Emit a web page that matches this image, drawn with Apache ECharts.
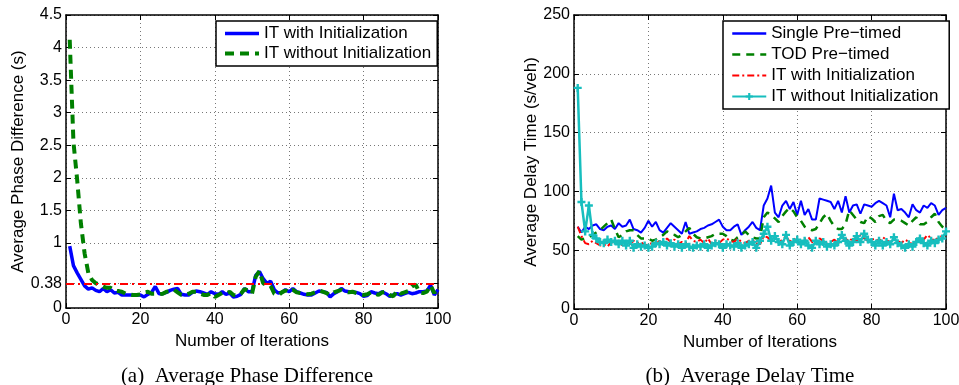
<!DOCTYPE html>
<html>
<head>
<meta charset="utf-8">
<script src="https://cdn.jsdelivr.net/npm/echarts@6.0.0/dist/echarts.min.js"></script>
<style>
  html, body { margin: 0; padding: 0; background: #fff; }
  #chart { width: 959px; height: 385px; }
</style>
</head>
<body>
<div id="chart"></div>
<script>
// iteration numbers (x values)
const iterations = Array.from({ length: 100 }, (_, i) => i + 1);

// (a) average phase difference (s)
const phaseWithInit = [
  0.95, 0.65, 0.54, 0.44, 0.34, 0.29, 0.31, 0.27, 0.25, 0.30,
  0.25, 0.28, 0.23, 0.24, 0.20, 0.20, 0.20, 0.20, 0.20, 0.20,
  0.17, 0.21, 0.24, 0.33, 0.22, 0.22, 0.24, 0.27, 0.29, 0.30,
  0.21, 0.20, 0.20, 0.24, 0.26, 0.25, 0.23, 0.21, 0.25, 0.22,
  0.21, 0.25, 0.21, 0.23, 0.17, 0.18, 0.21, 0.30, 0.25, 0.25,
  0.50, 0.56, 0.45, 0.38, 0.41, 0.28, 0.23, 0.24, 0.28, 0.25,
  0.30, 0.25, 0.23, 0.21, 0.20, 0.20, 0.23, 0.26, 0.25, 0.24,
  0.17, 0.22, 0.25, 0.30, 0.26, 0.25, 0.25, 0.24, 0.22, 0.18,
  0.19, 0.25, 0.23, 0.22, 0.25, 0.22, 0.18, 0.20, 0.22, 0.20,
  0.22, 0.24, 0.22, 0.23, 0.25, 0.25, 0.26, 0.35, 0.20, 0.28
];
const phaseWithoutInit = [
  4.12, 2.55, 1.97, 1.30, 0.84, 0.54, 0.43, 0.38, 0.36, 0.33,
  0.31, 0.31, 0.27, 0.26, 0.25, 0.22, 0.21, 0.20, 0.20, 0.21,
  0.24, 0.25, 0.22, 0.22, 0.21, 0.22, 0.25, 0.26, 0.28, 0.24,
  0.20, 0.20, 0.22, 0.25, 0.25, 0.22, 0.20, 0.20, 0.23, 0.17,
  0.20, 0.23, 0.22, 0.25, 0.20, 0.19, 0.22, 0.29, 0.27, 0.22,
  0.48, 0.57, 0.38, 0.35, 0.34, 0.22, 0.19, 0.24, 0.27, 0.24,
  0.28, 0.24, 0.23, 0.22, 0.21, 0.22, 0.24, 0.27, 0.25, 0.23,
  0.20, 0.24, 0.26, 0.28, 0.25, 0.24, 0.25, 0.23, 0.21, 0.20,
  0.21, 0.24, 0.22, 0.20, 0.24, 0.25, 0.20, 0.18, 0.27, 0.22,
  0.24, 0.26, 0.33, 0.36, 0.24, 0.23, 0.25, 0.35, 0.23, 0.33
];
const phaseThreshold = 0.38;
const phaseTicks = [0, 0.38, 1, 1.5, 2, 2.5, 3, 3.5, 4, 4.5];

// (b) average delay time (s/veh)
const delaySingle = [
  70, 65, 70, 68, 71, 72, 68, 67, 70, 71,
  68, 73, 70, 71, 76, 68, 67, 65, 69, 75,
  70, 74, 67, 65, 69, 73, 70, 67, 64, 74,
  64, 65, 66, 68, 69, 71, 72, 74, 76, 70,
  67, 67, 70, 72, 63, 67, 70, 74, 69, 67,
  88, 94, 105, 82, 78, 88, 92, 85, 91, 80,
  92, 80, 85, 76, 76, 94, 93, 92, 91, 85,
  92, 82, 96, 82, 88, 89, 81, 89, 88, 87,
  90, 92, 90, 88, 78, 98, 84, 85, 82, 78,
  89, 84, 82, 88, 86, 90, 88, 80, 84, 86
];
const delayTod = [
  62, 59, 60, 61, 63, 65, 67, 70, 73, 76,
  68, 61, 63, 66, 67, 67, 63, 60, 60, 60,
  58, 59, 61, 63, 66, 64, 63, 61, 63, 66,
  69, 64, 61, 60, 60, 61, 62, 64, 64, 64,
  62, 59, 58, 61, 63, 66, 63, 61, 60, 60,
  78, 82, 80, 77, 74, 79, 83, 86, 83, 78,
  75, 70, 68, 67, 68, 73, 78, 81, 75, 70,
  68, 68, 72, 84, 80, 76, 74, 73, 79, 77,
  74, 79, 80, 75, 73, 76, 76, 75, 73, 71,
  75, 78, 72, 72, 74, 78, 81, 74, 70, 68
];
const delayItWith = [
  70, 62, 56, 55, 58, 56, 54, 55, 53, 57,
  56, 59, 54, 57, 55, 58, 56, 57, 54, 55,
  56, 55, 58, 56, 60, 57, 59, 55, 57, 56,
  62, 58, 57, 59, 56, 60, 55, 58, 56, 59,
  60, 58, 57, 60, 57, 56, 58, 59, 56, 55,
  62, 61, 58, 60, 56, 59, 62, 57, 60, 58,
  55, 59, 61, 57, 56, 60, 58, 55, 57, 59,
  56, 58, 60, 57, 61, 58, 63, 60, 58, 59,
  60, 57, 61, 59, 56, 60, 58, 56, 59, 57,
  55, 58, 61, 59, 63, 60, 58, 61, 62, 64
];
const delayItWithout = [
  188, 91, 66, 88, 63, 60, 57, 56, 59, 57,
  58, 55, 58, 54, 58, 52, 55, 53, 54, 52,
  53, 56, 55, 57, 54, 56, 53, 55, 52, 55,
  53, 52, 54, 53, 55, 52, 54, 56, 55, 52,
  55, 54, 53, 56, 52, 54, 55, 57, 52, 58,
  64, 70, 58, 62, 57, 55, 63, 54, 57, 59,
  55, 58, 54, 52, 58, 55, 57, 53, 55, 54,
  57, 63, 58, 54, 57, 62, 57, 64, 59, 57,
  54, 58, 54, 57, 55, 61, 56, 54, 52, 55,
  53, 57, 60, 56, 54, 58, 56, 59, 60, 66
];

const pairs = (ys) => iterations.map((x, i) => [x, ys[i]]);

const sans = 'Liberation Sans';
const gridLine = { show: true, lineStyle: { color: '#777', type: [1, 3], width: 1 } };
const frame = { show: true, onZero: false, lineStyle: { color: '#000', width: 1.5 } };
const tickIn = { show: true, inside: true, length: 5, lineStyle: { color: '#000', width: 1 } };
const tickLabel = { color: '#000', fontSize: 16, fontFamily: sans, margin: 4 };
const nameStyle = { color: '#000', fontSize: 17, fontFamily: sans };
// legend entries whose series have no markers: hide the legend dot
const noDot = (name, width) => ({ name: name, itemStyle: { opacity: 0 }, lineStyle: { width: width } });

function xAxes(gridIndex) {
  return [{
    type: 'value', gridIndex: gridIndex, min: 0, max: 100, interval: 20,
    name: 'Number of Iterations', nameLocation: 'middle', nameGap: 21, nameTextStyle: nameStyle,
    axisLine: frame, axisTick: tickIn, axisLabel: tickLabel, splitLine: gridLine
  }, {
    type: 'value', gridIndex: gridIndex, position: 'top', min: 0, max: 100, interval: 20,
    axisLine: frame, axisTick: tickIn, axisLabel: { show: false }, splitLine: { show: false }
  }];
}

const chart = echarts.init(document.getElementById('chart'));
chart.setOption({
  animation: false,
  backgroundColor: '#fff',
  grid: [
    { left: 66, top: 15, width: 372, height: 293, outerBoundsMode: 'none' },
    { left: 574, top: 15, width: 372, height: 294, outerBoundsMode: 'none' }
  ],
  xAxis: xAxes(0).concat(xAxes(1)),
  yAxis: [{
    type: 'value', gridIndex: 0, min: 0, max: 4.5,
    name: 'Average Phase Difference (s)', nameLocation: 'middle', nameGap: 39, nameTextStyle: nameStyle,
    axisLine: frame,
    axisTick: Object.assign({ customValues: phaseTicks }, tickIn),
    axisLabel: Object.assign({ customValues: phaseTicks }, tickLabel),
    splitLine: gridLine
  }, {
    type: 'value', gridIndex: 0, position: 'right', min: 0, max: 4.5,
    axisLine: frame,
    axisTick: Object.assign({ customValues: phaseTicks }, tickIn),
    axisLabel: { show: false }, splitLine: { show: false }
  }, {
    type: 'value', gridIndex: 1, min: 0, max: 250, interval: 50,
    name: 'Average Delay Time (s/veh)', nameLocation: 'middle', nameGap: 34, nameTextStyle: nameStyle,
    axisLine: frame, axisTick: tickIn, axisLabel: tickLabel, splitLine: gridLine
  }, {
    type: 'value', gridIndex: 1, position: 'right', min: 0, max: 250, interval: 50,
    axisLine: frame, axisTick: tickIn, axisLabel: { show: false }, splitLine: { show: false }
  }],
  legend: [{
    left: 216, top: 21, orient: 'vertical',
    padding: [4, 6, 4, 7], itemGap: 3, itemWidth: 34, itemHeight: 9,
    backgroundColor: '#fff', borderColor: '#000', borderWidth: 1.5, borderRadius: 0,
    textStyle: { color: '#000', fontSize: 17, fontFamily: sans },
    data: [noDot('IT with Initialization', 3.5), noDot('IT without Initialization', 4)]
  }, {
    left: 723, top: 21, orient: 'vertical',
    padding: [4, 6, 4, 8], itemGap: 4, itemWidth: 34, itemHeight: 9,
    backgroundColor: '#fff', borderColor: '#000', borderWidth: 1.5, borderRadius: 0,
    textStyle: { color: '#000', fontSize: 17, fontFamily: sans },
    data: [noDot('Single Pre\u2212timed', 2.5), noDot('TOD Pre\u2212timed', 2.5), noDot('IT with Initialization ', 2), 'IT without Initialization ']
  }],
  graphic: [{
    type: 'text', x: 247, y: 366,
    style: { text: '(a)  Average Phase Difference', fill: '#000', font: '21px "Liberation Serif"', align: 'center', textAlign: 'center' }
  }, {
    type: 'text', x: 750, y: 366,
    style: { text: '(b)  Average Delay Time', fill: '#000', font: '21px "Liberation Serif"', align: 'center', textAlign: 'center' }
  }],
  series: [{
    name: 'IT with Initialization', type: 'line', xAxisIndex: 0, yAxisIndex: 0,
    symbol: 'none', color: '#0000FF', lineStyle: { width: 3.5, color: '#0000FF' },
    data: pairs(phaseWithInit),
    markLine: {
      silent: true, symbol: 'none', label: { show: false },
      lineStyle: { color: '#FF0000', width: 2, type: [8, 4, 2, 4] },
      data: [{ yAxis: phaseThreshold }]
    }
  }, {
    name: 'IT without Initialization', type: 'line', xAxisIndex: 0, yAxisIndex: 0,
    symbol: 'none', color: '#008000', lineStyle: { width: 4, color: '#008000', type: [9, 6] },
    data: pairs(phaseWithoutInit)
  }, {
    name: 'Single Pre\u2212timed', type: 'line', xAxisIndex: 2, yAxisIndex: 2,
    symbol: 'none', color: '#0000FF', lineStyle: { width: 2, color: '#0000FF' },
    data: pairs(delaySingle)
  }, {
    name: 'TOD Pre\u2212timed', type: 'line', xAxisIndex: 2, yAxisIndex: 2,
    symbol: 'none', color: '#008000', lineStyle: { width: 2.5, color: '#008000', type: [8, 6] },
    data: pairs(delayTod)
  }, {
    name: 'IT with Initialization ', type: 'line', xAxisIndex: 2, yAxisIndex: 2,
    symbol: 'none', color: '#FF0000', lineStyle: { width: 2, color: '#FF0000', type: [7, 3, 2, 3] },
    data: pairs(delayItWith)
  }, {
    name: 'IT without Initialization ', type: 'line', xAxisIndex: 2, yAxisIndex: 2,
    symbol: 'path://M3.5,0H6.5V3.5H10V6.5H6.5V10H3.5V6.5H0V3.5H3.5Z', symbolSize: 8,
    color: '#17BEBE', itemStyle: { color: '#17BEBE' },
    lineStyle: { width: 2.5, color: '#17BEBE' },
    data: pairs(delayItWithout)
  }]
});
</script>
</body>
</html>
